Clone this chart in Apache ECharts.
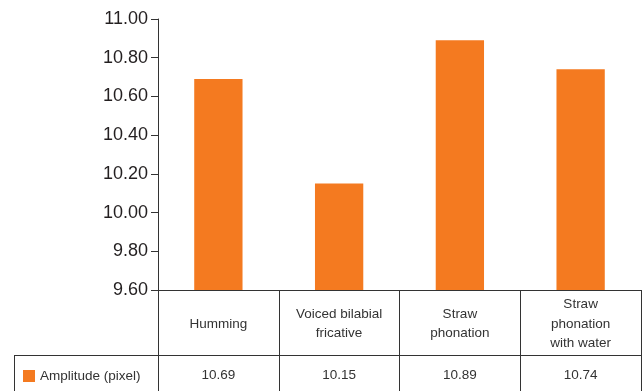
<!DOCTYPE html>
<html>
<head>
<meta charset="utf-8">
<script src="https://cdn.jsdelivr.net/npm/echarts@6/dist/echarts.min.js"></script>
<style>
  html, body { margin: 0; padding: 0; background: #fff; }
  #chart { width: 644px; height: 391px; }
</style>
</head>
<body>
<div id="chart"></div>
<script>
  // data
  var categories = ["Humming", "Voiced bilabial\nfricative", "Straw\nphonation", "Straw\nphonation\nwith water"];
  var amplitude = [10.69, 10.15, 10.89, 10.74];
  var seriesName = "Amplitude (pixel)";
  var yMin = 9.6, yMax = 11.0, yStep = 0.2;

  var lineColor = "#333";
  var textColor = "#333";

  var chart = echarts.init(document.getElementById("chart"));
  var option = {
    animation: false,
    color: ["#f47a20"],
    textStyle: { fontFamily: "Liberation Sans, Arial, sans-serif" },
    grid: { left: 158, right: 3, top: 19, bottom: 101, containLabel: false },
    legend: {
      data: [seriesName],
      left: 23,
      top: 369,
      padding: 0,
      icon: "rect",
      itemWidth: 12,
      itemHeight: 12,
      textStyle: { color: textColor, fontSize: 13.5 }
    },
    xAxis: [
      {
        type: "category",
        data: categories,
        axisLine: { lineStyle: { color: lineColor, width: 1 } },
        axisTick: { show: true, interval: 0, length: 101, lineStyle: { color: lineColor } },
        axisLabel: {
          interval: 0,
          margin: 34,
          verticalAlign: "middle",
          lineHeight: 19.5,
          fontSize: 13.5,
          color: textColor
        }
      },
      {
        type: "category",
        position: "bottom",
        offset: 65,
        data: amplitude.map(function (v) { return v.toFixed(2); }),
        axisLine: { lineStyle: { color: lineColor, width: 1 } },
        axisTick: { show: false },
        axisLabel: {
          interval: 0,
          margin: 20,
          verticalAlign: "middle",
          fontSize: 13.5,
          color: textColor
        }
      }
    ],
    yAxis: {
      type: "value",
      min: yMin,
      max: yMax,
      interval: yStep,
      axisLine: { show: true, lineStyle: { color: lineColor, width: 1 } },
      axisTick: { show: true, length: 7, lineStyle: { color: lineColor } },
      splitLine: { show: false },
      axisLabel: {
        margin: 10,
        fontSize: 18,
        color: "#231f20",
        formatter: function (v) { return v.toFixed(2); }
      }
    },
    graphic: [
      // left part of the table: border around the legend cell
      { type: "line", shape: { x1: 14, y1: 355.5, x2: 158, y2: 355.5 }, style: { stroke: lineColor, lineWidth: 1 } },
      { type: "line", shape: { x1: 14.5, y1: 355, x2: 14.5, y2: 391 }, style: { stroke: lineColor, lineWidth: 1 } }
    ],
    series: [
      {
        name: seriesName,
        type: "bar",
        xAxisIndex: 0,
        data: amplitude,
        barWidth: "40%"
      }
    ]
  };
  chart.setOption(option);
</script>
</body>
</html>
